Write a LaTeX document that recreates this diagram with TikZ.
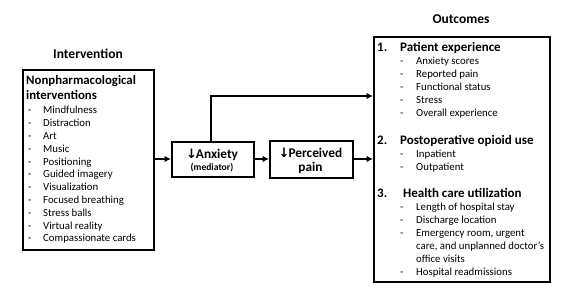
\documentclass[tikz,border=0pt]{standalone}
\usepackage{fontspec}
\setmainfont{Carlito}
\newfontfamily\symf{DejaVu Sans}
\tikzset{
  box/.style={draw=black, line width=1.7pt, inner sep=0pt, anchor=north west},
  arr/.style={line width=1.9pt, -{Latex[length=6.5pt,width=6.5pt]}},
  txt/.style={anchor=base west, inner sep=0pt, font=\fontsize{10.8}{13}\selectfont},
  head/.style={anchor=base west, inner sep=0pt, font=\fontsize{13}{16}\selectfont\bfseries},
  lhead/.style={anchor=base west, inner sep=0pt, font=\fontsize{12.8}{16}\selectfont\bfseries},
  title/.style={anchor=base, inner sep=0pt, font=\fontsize{13.5}{15}\selectfont\bfseries},
  mid/.style={anchor=base, inner sep=0pt, font=\fontsize{13.3}{15}\selectfont\bfseries},
}
\newcommand{\dn}{{\symf\fontsize{13}{14}\selectfont ↓}\kern-1pt}
\usetikzlibrary{arrows.meta}
\begin{document}
\begin{tikzpicture}[x=1pt,y=-1pt]
\useasboundingbox (0,0) rectangle (565,297);
% titles
\node[title] (t1) at (461,23.5) {Outcomes};
\node[title] (t2) at (88,58.5) {Intervention};
% boxes
\node[box, minimum width=131pt, minimum height=180pt] (left) at (22,69) {};
\node[box, minimum width=176pt, minimum height=245pt] (out) at (373,36) {};
\node[box, minimum width=82pt, minimum height=35pt] (anx) at (171,141) {};
\node[box, minimum width=83pt, minimum height=37pt] (pain) at (269,140) {};
% left text
\node[lhead] (lh1) at (26,84.5) {Nonpharmacological};
\node[lhead] (lh2) at (26,99.5) {interventions};
\foreach \t [count=\i from 0] in {Mindfulness,Distraction,Art,Music,Positioning,Guided imagery,Visualization,Focused breathing,Stress balls,Virtual reality,Compassionate cards}{
  \node[txt] (ld\i) at (28,113.8+12.8*\i) {-};
  \node[txt] (li\i) at (43,113.8+12.8*\i) {\t};
}
% anxiety and pain
\node[mid] (a1) at (212,158) {\dn Anxiety};
\node[mid, font=\fontsize{9.6}{10}\selectfont\bfseries] (a2) at (212,170.5) {(mediator)};
\node[mid] (p1) at (310.5,157) {\dn Perceived};
\node[mid] (p2) at (310.5,171.5) {pain};
% outcomes text
\node[head] (n1) at (377,51.5) {1.};
\node[head] (h1) at (400,51.5) {Patient experience};
\foreach \t [count=\i from 0] in {Anxiety scores,Reported pain,Functional status,Stress,Overall experience}{
  \node[txt] (od\i) at (400,64.8+13*\i) {-};
  \node[txt] (oi\i) at (416,64.8+13*\i) {\t};
}
\node[head] (n2) at (377,144.5) {2.};
\node[head] (h2) at (400,144.5) {Postoperative opioid use};
\node[txt] (pd1) at (400,157.8) {-};
\node[txt] (pi1) at (416,157.8) {Inpatient};
\node[txt] (pd2) at (400,170.8) {-};
\node[txt] (pi2) at (416,170.8) {Outpatient};
\node[head] (n3) at (377,197.5) {3.};
\node[head] (h3) at (403,197.5) {Health care utilization};
\node[txt] (hd1) at (400,210.8) {-};
\node[txt] (hi1) at (416,210.8) {Length of hospital stay};
\node[txt] (hd2) at (400,223.8) {-};
\node[txt] (hi2) at (416,223.8) {Discharge location};
\node[txt] (hd3) at (400,236.8) {-};
\node[txt] (hi3) at (416,236.8) {Emergency room, urgent};
\node[txt] (hi3b) at (416,249.8) {care, and unplanned doctor’s};
\node[txt] (hi3c) at (416,262.8) {office visits};
\node[txt] (hd4) at (400,275.8) {-};
\node[txt] (hi4) at (416,275.8) {Hospital readmissions};
% connectors
\coordinate (turn) at (211,96);
\draw[arr] (left.east |- 0,159) -- (anx.west |- 0,159);
\draw[arr] (anx.east |- 0,159) -- (pain.west |- 0,159);
\draw[arr] (pain.east |- 0,159) -- (out.west |- 0,159);
\draw[arr] (anx.north -| turn) -- (turn) -- (turn -| out.west);
\end{tikzpicture}
\end{document}
